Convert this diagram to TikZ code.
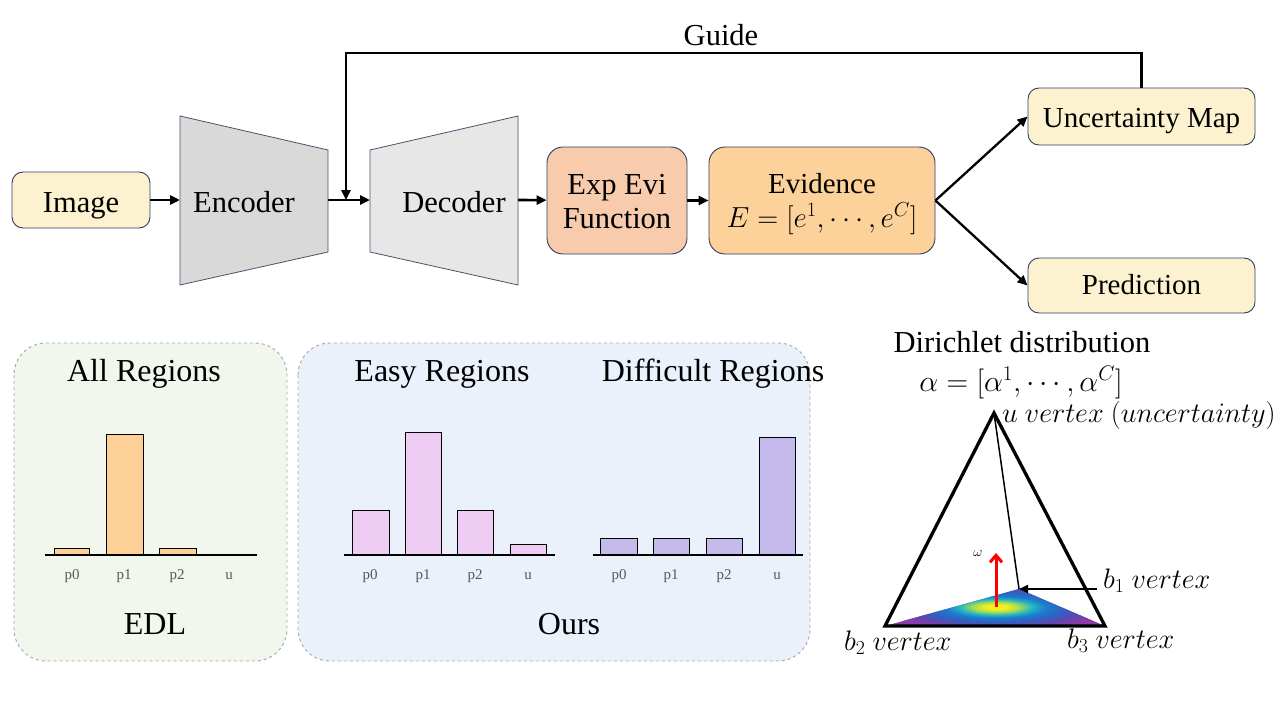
\RequirePackage{fix-cm}
\documentclass[tikz,border=0pt]{standalone}
\usepackage{fontspec}
\setmainfont{Liberation Serif}
\usetikzlibrary{arrows.meta,calc}
\definecolor{cream}{HTML}{FDF2CF}
\definecolor{navy}{HTML}{2F3E5C}
\definecolor{encgray}{HTML}{D9D9D9}
\definecolor{decgray}{HTML}{E7E7E7}
\definecolor{peach}{HTML}{F8CBAD}
\definecolor{evor}{HTML}{FDD29A}
\definecolor{panelgreen}{HTML}{F2F7EE}
\definecolor{panelblue}{HTML}{EAF1FB}
\definecolor{dashgray}{HTML}{A6A6A6}
\definecolor{barorange}{HTML}{FDD098}
\definecolor{barpink}{HTML}{EECCF4}
\definecolor{barpurple}{HTML}{C5BAEC}
\definecolor{lblgray}{HTML}{595959}
\definecolor{vy}{HTML}{F4F01E}
\definecolor{vg}{HTML}{A8DC50}
\definecolor{vc}{HTML}{22B4C4}
\definecolor{vb}{HTML}{1E7ACC}
\definecolor{vbb}{HTML}{3060C0}
\definecolor{vi}{HTML}{5C48B0}
\definecolor{vp}{HTML}{8A3CA8}
\definecolor{trapline}{HTML}{44546A}
\pgfdeclareradialshading{vir}{\pgfpoint{0bp}{0bp}}{color(0bp)=(vy); color(2.2bp)=(vy); color(5bp)=(vg); color(8bp)=(vc); color(11bp)=(vb); color(15bp)=(vbb); color(19bp)=(vi); color(23bp)=(vp); color(50bp)=(vp)}
\newcommand\fsz[2]{\fontsize{#1}{#2}\selectfont}
\tikzset{
  rbox/.style={draw=navy, line width=0.9pt, rounded corners=11pt, inner sep=0pt},
  arr/.style={line width=2.6pt, -{Triangle[length=10pt,width=9pt]}},
  panel/.style={draw=dashgray, dashed, line width=0.9pt, rounded corners=32pt},
  bar/.style={draw=black, line width=1pt},
  axisl/.style={line width=1.2pt},
  blbl/.style={text=lblgray, font=\fsz{15}{18}, inner sep=0pt, anchor=base},
  ttl/.style={font=\fsz{30.5}{36}, inner sep=0pt, anchor=base},
  ptl/.style={font=\fsz{32}{38}, inner sep=0pt, anchor=base},
  vlbl/.style={font=\fsz{28.2}{34}, inner sep=0pt, anchor=base west},
}
\begin{document}
\begin{tikzpicture}[x=1pt,y=-1pt]
\useasboundingbox (0,0) rectangle (1280,720);
% ---------- top pipeline ----------
\node[rbox, fill=cream, minimum width=138pt, minimum height=56pt] (img) at (81,200) {};
\node[ttl] (imgt) at (81,212) {Image};
\draw[draw=trapline, fill=encgray, line width=0.8pt] (180,116) -- (328,150) -- (328,252) -- (180,285) -- cycle;
\node[ttl] (enc) at (244,212) {Encoder};
\coordinate (encL) at (180,200);
\coordinate (encR) at (328,200);
\draw[draw=trapline, fill=decgray, line width=0.8pt] (370,150) -- (518,116) -- (518,285) -- (370,252) -- cycle;
\node[ttl] (dec) at (454,212) {Decoder};
\coordinate (decL) at (370,200);
\coordinate (decR) at (518,200);
\node[rbox, fill=peach, minimum width=140pt, minimum height=107pt, rounded corners=16pt] (exp) at (617,200.5) {};
\node[ttl] (expt1) at (617,194) {Exp Evi};
\node[ttl] (expt2) at (617,228) {Function};
\node[rbox, fill=evor, minimum width=226pt, minimum height=107pt, rounded corners=16pt] (evi) at (822,200.5) {};
\node[font=\fsz{29}{34}, inner sep=0pt, anchor=base] (evt1) at (822,193) {Evidence};
\node[font=\fsz{29}{34}, inner sep=0pt, anchor=base] (evt2) at (822,227) {$E=[e^1,\cdots,e^C]$};
\node[rbox, fill=cream, minimum width=227pt, minimum height=57pt] (um) at (1141.5,116.5) {};
\node[font=\fsz{29}{34}, inner sep=0pt, anchor=base] (umt) at (1141.5,127) {Uncertainty Map};
\node[rbox, fill=cream, minimum width=227pt, minimum height=55pt] (pred) at (1141.5,285.5) {};
\node[font=\fsz{29}{34}, inner sep=0pt, anchor=base] (predt) at (1141.5,294) {Prediction};
\draw[arr] (img) -- (encL);
\draw[arr] (encR) -- (decL);
\draw[arr] (decR) -- (exp);
\draw[arr] (exp) -- (evi);
\draw[arr, line width=2.3pt] (evi.east) -- (um.west);
\draw[arr, line width=2.3pt] (evi.east) -- (pred.west);
\coordinate (gdrop) at (346,200);
\draw[arr, line width=2.4pt] (um.north) -- (um.north |- 0,53) -| (gdrop);
\node[ttl] (guide) at (721,45) {Guide};
% ---------- EDL panel ----------
\draw[panel, fill=panelgreen] (14,343) rectangle (287,661);
\node[ptl] (allr) at (144,381) {All Regions};
\draw[bar, fill=barorange] (54,555) rectangle (89,548);
\draw[bar, fill=barorange] (106,555) rectangle (143,434);
\draw[bar, fill=barorange] (159,555) rectangle (196,548);
\draw[axisl] (45,555) -- (257,555);
\node[blbl] at (72,579) {p0};
\node[blbl] at (124,579) {p1};
\node[blbl] at (177,579) {p2};
\node[blbl] at (229,579) {u};
\node[ptl] (edl) at (155,634) {EDL};
% ---------- Ours panel ----------
\draw[panel, fill=panelblue] (298,343) rectangle (810,661);
\node[ptl] (easy) at (442,381) {Easy Regions};
\node[ptl] (diff) at (713,381) {Difficult Regions};
\draw[bar, fill=barpink] (352,555) rectangle (389,510);
\draw[bar, fill=barpink] (405,555) rectangle (441,432);
\draw[bar, fill=barpink] (457,555) rectangle (493,510);
\draw[bar, fill=barpink] (510,555) rectangle (546,544);
\draw[axisl] (344,555) -- (555,555);
\node[blbl] at (370,579) {p0};
\node[blbl] at (423,579) {p1};
\node[blbl] at (475,579) {p2};
\node[blbl] at (528,579) {u};
\draw[bar, fill=barpurple] (600,555) rectangle (637,538);
\draw[bar, fill=barpurple] (653,555) rectangle (689,538);
\draw[bar, fill=barpurple] (706,555) rectangle (742,538);
\draw[bar, fill=barpurple] (759,555) rectangle (795,437);
\draw[axisl] (593,555) -- (803,555);
\node[blbl] at (619,579) {p0};
\node[blbl] at (671,579) {p1};
\node[blbl] at (724,579) {p2};
\node[blbl] at (777,579) {u};
\node[ptl] (ours) at (569,634) {Ours};
% ---------- Dirichlet ----------
\node[ttl] (dir) at (1022,352) {Dirichlet distribution};
\node[font=\fsz{30}{36}, inner sep=0pt, anchor=base] (alpha) at (1021,391) {$\alpha=[\alpha^1,\cdots,\alpha^C]$};
\coordinate (u) at (994,413);
\coordinate (b2) at (885,626);
\coordinate (b3) at (1105,626);
\coordinate (b1) at (1019,589);
\begin{scope}
  \clip (b2) -- (b1) -- (b3) -- cycle;
  \fill[vp] (b2) -- (b1) -- (b3) -- cycle;
  \shade[shading=vir] (996,607) ellipse [x radius=115, y radius=25];
\end{scope}
\draw[line width=1.5pt] (u) -- (b1);
\draw[line width=3.3pt, line join=miter] (b2) -- (u) -- (b3) -- cycle;
\coordinate (wbase) at (996,607);
\coordinate (wtip) at (996,553);
\draw[red, line width=3pt, -{Straight Barb[length=7pt,width=12pt,line width=3pt]}] (wbase) -- (wtip);
\node[font=\fsz{14}{16}, inner sep=0pt, anchor=base] (om) at (978,556) {$\omega$};
\coordinate (b1lbl) at (1097,589);
\draw[line width=2pt, -{Triangle[length=9pt,width=8pt]}] (b1lbl) -- (b1);
\node[vlbl] (u-l) at (1002,422) {$u~vertex~(uncertainty)$};
\node[vlbl] (b1-l) at (1103,588) {$b_1~vertex$};
\node[vlbl] (b2-l) at (844,650) {$b_2~vertex$};
\node[vlbl] (b3-l) at (1067,648) {$b_3~vertex$};
\end{tikzpicture}
\end{document}
